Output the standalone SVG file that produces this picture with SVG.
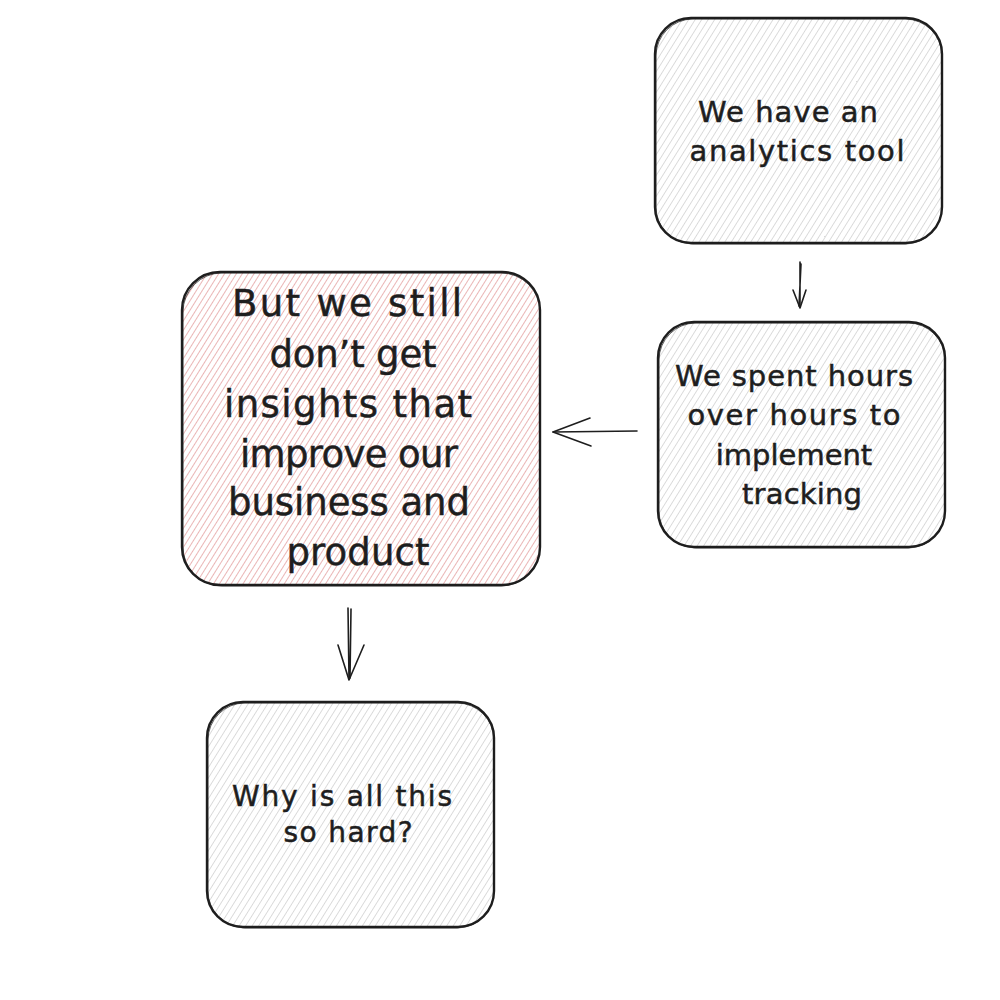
<svg xmlns="http://www.w3.org/2000/svg" width="1000" height="1000" viewBox="0 0 1000 1000">
  <defs>
    <pattern id="hatchGrey" width="5.5" height="6" patternUnits="userSpaceOnUse" patternTransform="rotate(32)">
      <line x1="0" y1="0" x2="0" y2="6" stroke="#b9b9b9" stroke-width="1"/>
    </pattern>
    <pattern id="hatchRed" width="5" height="5" patternUnits="userSpaceOnUse" patternTransform="rotate(32)">
      <line x1="0" y1="0" x2="0" y2="5" stroke="#d97878" stroke-width="1.1"/>
    </pattern>
    <style>
      .box { stroke: #1e1e1e; stroke-width: 2.4; }
      .box2 { fill: none; stroke: #1e1e1e; stroke-width: 1; opacity: 0.7; }
      .grey { fill: url(#hatchGrey); }
      .red { fill: url(#hatchRed); }
      .lbl { font-family: "DejaVu Sans", "Liberation Sans", sans-serif; fill: #1e1e1e; stroke: #1e1e1e; stroke-width: 0.5; text-anchor: middle; dominant-baseline: central; }
      .conn { fill: none; stroke: #1e1e1e; stroke-width: 1.6; stroke-linecap: round; stroke-linejoin: round; }
    </style>
  </defs>
  <rect width="1000" height="1000" fill="#ffffff"/>

  <g id="node-analytics">
    <rect class="box grey" x="655" y="18" width="287" height="225" rx="36"/>
    <rect class="box2" x="656" y="19" width="286" height="225" rx="37"/>
    <text class="lbl" font-size="29"><tspan x="788" y="112" textLength="180" lengthAdjust="spacing">We have an</tspan><tspan x="797" y="151" textLength="215" lengthAdjust="spacing">analytics tool</tspan></text>
  </g>

  <g id="node-tracking">
    <rect class="box grey" x="658" y="322" width="287" height="225" rx="36"/>
    <rect class="box2" x="659" y="323" width="286" height="225" rx="37"/>
    <text class="lbl" font-size="29"><tspan x="794" y="376" textLength="238" lengthAdjust="spacing">We spent hours</tspan><tspan x="794" y="415" textLength="213" lengthAdjust="spacing">over hours to</tspan><tspan x="794" y="455">implement</tspan><tspan x="802" y="494" textLength="120" lengthAdjust="spacing">tracking</tspan></text>
  </g>

  <g id="node-insights">
    <rect class="box red" x="182" y="272" width="358" height="313" rx="38"/>
    <rect class="box2" x="183" y="273" width="357" height="313" rx="39"/>
    <text class="lbl" font-size="37"><tspan x="347" y="303" textLength="230" lengthAdjust="spacing">But we still</tspan><tspan x="353" y="354" textLength="167" lengthAdjust="spacing">don’t get</tspan><tspan x="348" y="404" textLength="248" lengthAdjust="spacing">insights that</tspan><tspan x="349" y="454" textLength="218" lengthAdjust="spacing">improve our</tspan><tspan x="349" y="502" textLength="242" lengthAdjust="spacing">business and</tspan><tspan x="358" y="552" textLength="143" lengthAdjust="spacing">product</tspan></text>
  </g>

  <g id="node-hard">
    <rect class="box grey" x="207" y="702" width="287" height="225" rx="36"/>
    <rect class="box2" x="208" y="703" width="286" height="225" rx="37"/>
    <text class="lbl" font-size="28"><tspan x="342" y="796" textLength="220" lengthAdjust="spacing">Why is all this</tspan><tspan x="348" y="832" textLength="129" lengthAdjust="spacing">so hard?</tspan></text>
  </g>

  <g id="connectors">
    <path class="conn" d="M800 262 L800 307 M801 264 L799 306"/>
    <path class="conn" d="M793 290 L800 308 L806 290"/>
    <path class="conn" d="M637 431 L553 432"/>
    <path class="conn" d="M590 418 L553 432 L591 446"/>
    <path class="conn" d="M348 608 L349 679 M351 609 L350 678"/>
    <path class="conn" d="M338 645 L349 680 L364 645"/>
  </g>
</svg>
